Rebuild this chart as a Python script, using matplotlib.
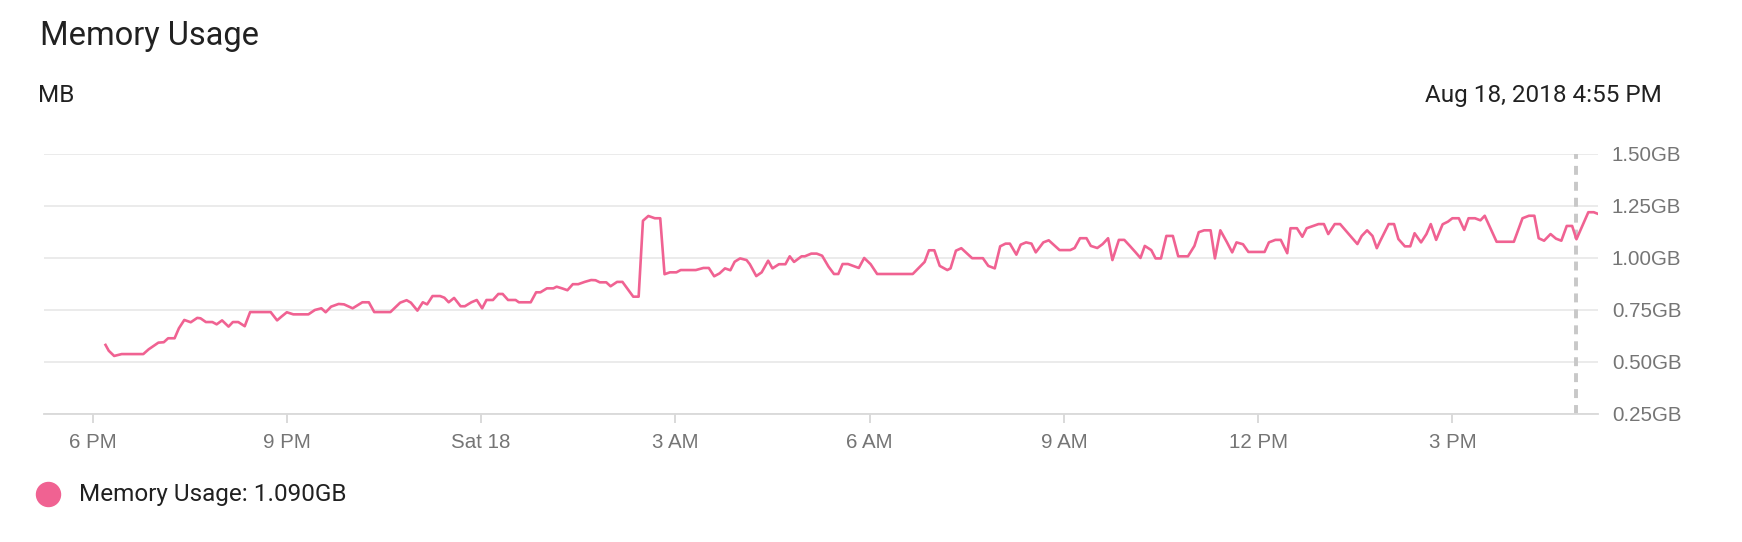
# Memory usage chart
import datetime as dt
import matplotlib
matplotlib.use('Agg')
import matplotlib.pyplot as plt
import matplotlib.dates as mdates
from matplotlib.lines import Line2D

plt.rcParams['font.family'] = ['Roboto', 'DejaVu Sans']

# minutes after Fri Aug 17 2018, 6 PM
minutes = [12, 15, 20, 27, 47, 52, 61, 66, 70, 76, 80, 85, 91, 97, 100, 105, 111, 115,
           120, 126, 130, 135, 141, 146, 165, 171, 175, 180, 186, 200, 206, 212, 216,
           221, 228, 233, 241, 250, 256, 261, 276, 285, 291, 295, 301, 306, 310, 315,
           322, 326, 330, 335, 341, 345, 351, 356, 361, 365, 371, 376, 380, 385, 392,
           395, 406, 411, 415, 421, 427, 430, 435, 440, 445, 450, 456, 462, 466, 470,
           476, 480, 486, 491, 501, 506, 510, 515, 521, 526, 530, 535, 541, 545, 559,
           566, 571, 576, 581, 586, 591, 595, 600, 606, 609, 615, 620, 626, 630, 636,
           642, 646, 650, 657, 660, 666, 671, 676, 682, 687, 691, 695, 700, 710, 715,
           721, 727, 760, 771, 775, 780, 785, 792, 795, 800, 805, 815, 825, 830, 836,
           841, 846, 850, 856, 860, 865, 870, 874, 881, 886, 896, 906, 910, 915, 921,
           925, 931, 936, 941, 945, 951, 956, 961, 966, 971, 975, 981, 985, 990, 995,
           1001, 1006, 1015, 1021, 1025, 1030, 1036, 1040, 1045, 1051, 1056, 1060,
           1066, 1071, 1086, 1090, 1096, 1101, 1107, 1110, 1116, 1121, 1125, 1136,
           1141, 1145, 1151, 1156, 1172, 1176, 1181, 1186, 1190, 1193, 1201, 1206,
           1210, 1216, 1221, 1225, 1231, 1236, 1240, 1245, 1251, 1256, 1260, 1266,
           1271, 1275, 1281, 1286, 1290, 1301, 1317, 1321, 1325, 1331, 1336, 1340,
           1345, 1351, 1356, 1361, 1366, 1371, 1375, 1386, 1391, 1395]

usage_gb = [0.582, 0.554, 0.529, 0.538, 0.538, 0.561, 0.593, 0.595, 0.614, 0.614, 0.662,
            0.702, 0.691, 0.712, 0.710, 0.692, 0.692, 0.681, 0.700, 0.670, 0.692, 0.692,
            0.672, 0.740, 0.740, 0.700, 0.718, 0.739, 0.729, 0.729, 0.750, 0.758, 0.739,
            0.766, 0.779, 0.777, 0.758, 0.787, 0.787, 0.740, 0.740, 0.785, 0.797, 0.785,
            0.747, 0.787, 0.777, 0.817, 0.817, 0.809, 0.787, 0.808, 0.768, 0.768, 0.787,
            0.798, 0.758, 0.798, 0.798, 0.827, 0.827, 0.798, 0.798, 0.787, 0.787, 0.835,
            0.835, 0.854, 0.854, 0.862, 0.854, 0.845, 0.874, 0.874, 0.885, 0.894, 0.893,
            0.883, 0.883, 0.864, 0.885, 0.885, 0.814, 0.814, 1.179, 1.202, 1.191, 1.191,
            0.922, 0.931, 0.931, 0.942, 0.942, 0.952, 0.952, 0.912, 0.926, 0.950, 0.941,
            0.982, 0.998, 0.990, 0.970, 0.913, 0.931, 0.987, 0.950, 0.970, 0.970, 1.008,
            0.981, 1.008, 1.008, 1.021, 1.021, 1.011, 0.958, 0.923, 0.923, 0.971, 0.971,
            0.952, 1.000, 0.970, 0.923, 0.923, 0.981, 1.037, 1.037, 0.962, 0.942, 0.950,
            1.035, 1.047, 0.999, 0.999, 0.962, 0.950, 1.056, 1.069, 1.069, 1.016, 1.064,
            1.075, 1.069, 1.027, 1.075, 1.085, 1.038, 1.038, 1.048, 1.095, 1.095, 1.058,
            1.048, 1.067, 1.095, 0.990, 1.087, 1.087, 1.059, 1.030, 1.000, 1.058, 1.038,
            0.998, 0.998, 1.106, 1.106, 1.008, 1.008, 1.058, 1.124, 1.133, 1.133, 0.998,
            1.133, 1.077, 1.027, 1.075, 1.066, 1.029, 1.029, 1.075, 1.087, 1.087, 1.023,
            1.143, 1.143, 1.102, 1.143, 1.163, 1.163, 1.115, 1.163, 1.163, 1.067, 1.106,
            1.133, 1.106, 1.047, 1.080, 1.163, 1.163, 1.091, 1.056, 1.056, 1.119, 1.075,
            1.115, 1.163, 1.087, 1.162, 1.175, 1.191, 1.191, 1.135, 1.191, 1.191, 1.181,
            1.203, 1.078, 1.078, 1.135, 1.191, 1.203, 1.203, 1.095, 1.083, 1.115, 1.093,
            1.083, 1.154, 1.154, 1.090, 1.220, 1.220, 1.212]

tick_labels = ['6 PM', '9 PM', 'Sat 18', '3 AM', '6 AM', '9 AM', '12 PM', '3 PM']
y_ticks = [0.25, 0.50, 0.75, 1.00, 1.25, 1.50]

start = dt.datetime(2018, 8, 17, 18, 0)
times = [start + dt.timedelta(minutes=m) for m in minutes]
tick_times = [start + dt.timedelta(hours=3 * i) for i in range(len(tick_labels))]
cursor = dt.datetime(2018, 8, 18, 16, 55)

pink = '#f06292'
grey_txt = '#757575'
dark = '#212121'

fig = plt.figure(figsize=(17.42, 5.42), dpi=100)
ax = fig.add_axes([0.02526, 0.2362, 0.8921, 0.4797])

ax.plot(times, usage_gb, color=pink, lw=1.9, zorder=3)
ax.axvline(cursor, color='#c8c8c8', lw=2.8, dashes=(2.3, 1.8), zorder=2)

ax.set_xlim(start - dt.timedelta(minutes=45), start + dt.timedelta(hours=23, minutes=15))
ax.set_ylim(0.25, 1.50)
ax.set_yticks(y_ticks)
ax.set_yticklabels(['%.2fGB' % v for v in y_ticks], family=['Liberation Sans'])
ax.yaxis.tick_right()
ax.set_xticks(tick_times)
ax.set_xticklabels(tick_labels, family=['Liberation Sans'])

ax.grid(axis='y', color='#e6e6e6', lw=1.1, zorder=0)
for s in ['top', 'left', 'right']:
    ax.spines[s].set_visible(False)
ax.spines['bottom'].set_color('#d9d9d9')
ax.spines['bottom'].set_linewidth(1.3)
ax.tick_params(axis='x', length=6.5, width=1.1, color='#d0d0d0', pad=7,
               labelsize=14.8, labelcolor=grey_txt)
ax.tick_params(axis='y', length=0, pad=10, labelsize=14.8, labelcolor=grey_txt)

fig.text(40 / 1742, 1 - 45 / 542, 'Memory Usage', fontsize=23.5, color=dark,
         ha='left', va='baseline')
fig.text(38 / 1742, 1 - 101.7 / 542, 'MB', fontsize=17.5, color=dark,
         ha='left', va='baseline')
fig.text(1662 / 1742, 1 - 101.7 / 542, 'Aug 18, 2018 4:55 PM', fontsize=17.5,
         color=dark, ha='right', va='baseline')

fig.add_artist(Line2D([47.7 / 1742], [1 - 494 / 542], marker='o', ms=17.3,
                      color=pink, lw=0, transform=fig.transFigure))
fig.text(79 / 1742, 1 - 494 / 542, 'Memory Usage: 1.090GB', fontsize=17.5,
         color=dark, ha='left', va='center')

plt.savefig('out.png', dpi=100)
